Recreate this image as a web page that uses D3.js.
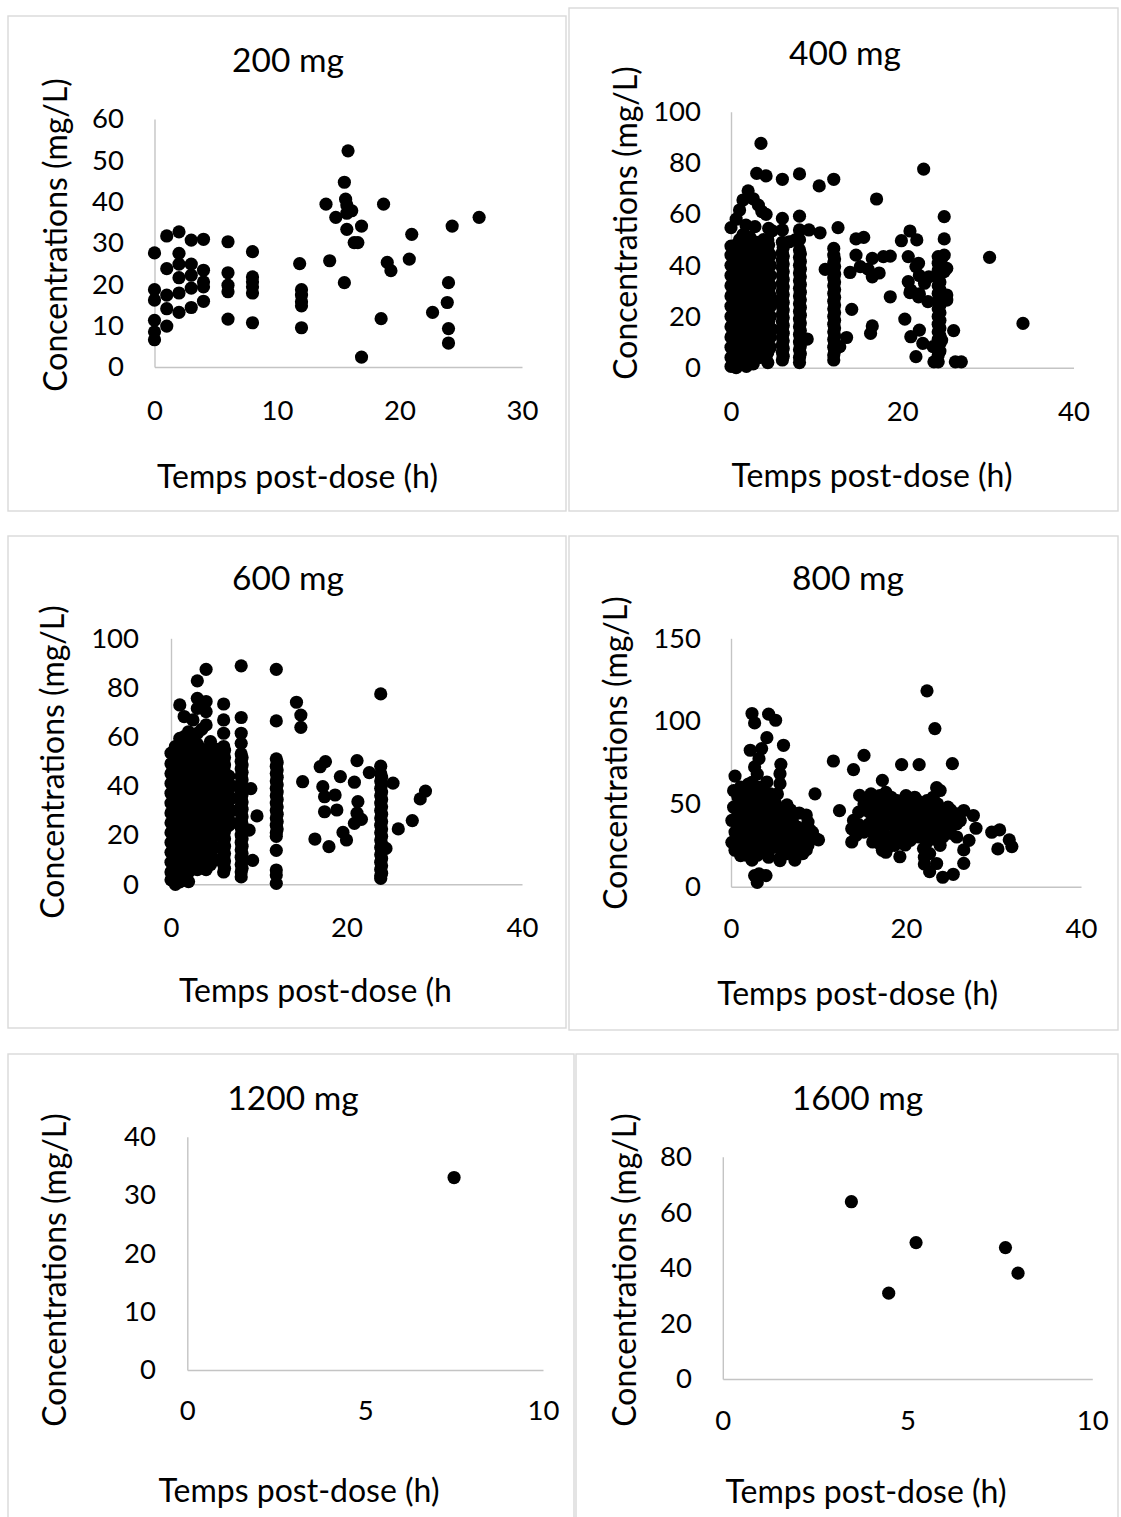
<!DOCTYPE html>
<html>
<head>
<meta charset="utf-8">
<script src="https://cdn.jsdelivr.net/npm/d3@7"></script>
<style>
  body { margin: 0; background: #fff; }
  svg { display: block; }
  text { font-family: Lato, "Open Sans", sans-serif; fill: #000; }
</style>
</head>
<body>
<svg id="chart" width="1121" height="1517"></svg>
<script>
// Concentration samples grouped by post-dose time: [time (h), [concentrations (mg/L)]]
const pts200 = [
  [0, [27.6, 18.7, 16.2, 11.3, 8.5, 6.6]],
  [1, [31.7, 23.8, 17.4, 14.1, 9.9]],
  [2, [32.7, 27.5, 24.9, 21.6, 17.9, 13.2]],
  [3, [30.7, 24.9, 22.2, 19.1, 14.4]],
  [4, [30.9, 23.4, 20.6, 19.4, 15.9]],
  [6, [30.3, 22.8, 19.8, 18.2, 11.6]],
  [8, [27.9, 21.8, 20.6, 19.4, 17.9, 10.7]],
  [11.85, [25.0]],
  [12, [18.7, 17.4, 15.8, 14.8, 9.5]],
  [14.0, [39.4]], [14.3, [25.7]], [14.8, [36.2]],
  [15.5, [20.4, 44.7]], [15.6, [40.6]], [15.7, [33.3, 37.2, 39.2]], [15.8, [52.3]],
  [16.1, [37.8]], [16.3, [30.1]], [16.6, [30.1]], [16.9, [34.1, 2.4]],
  [18.5, [11.7]], [18.7, [39.4]], [19.0, [25.3]], [19.3, [23.3]],
  [20.8, [26.1]], [21.0, [32.1]], [22.7, [13.2]],
  [23.9, [15.6]], [24.0, [20.4, 9.3, 5.8]], [24.3, [34.1]], [26.5, [36.2]]
];

const pts400 = [
  [0, [0.5, 4, 8, 12, 16, 20, 24, 28, 32, 36, 40, 44, 47.5, 54.7]],
  [0.3, [2, 6, 10, 14, 18, 22, 26, 30, 34, 38, 42, 46]],
  [0.6, [0, 3, 7, 11, 15, 19, 23, 27, 31, 35, 39, 43, 48, 58]],
  [1.0, [1, 5, 9, 13, 17, 21, 25, 29, 33, 37, 41, 45, 50, 61.6]],
  [1.4, [3, 7, 11, 15, 19, 23, 27, 31, 35, 39, 43, 47, 52, 65.5]],
  [1.75, [55.7]],
  [1.8, [0.5, 5, 9, 13, 17, 21, 25, 29, 33, 37, 41, 45, 49]],
  [2.0, [69.1]],
  [2.2, [2, 6, 10, 14, 18, 22, 26, 30, 34, 38, 42, 46, 51]],
  [2.6, [1.5, 4, 8, 12, 16, 20, 24, 28, 32, 36, 40, 44, 48, 66]],
  [2.8, [55.1]],
  [3.0, [5, 9, 13, 17, 21, 25, 29, 33, 37, 41, 45, 49, 75.9]],
  [3.2, [63.5]],
  [3.4, [4, 7, 11, 15, 19, 23, 27, 31, 35, 39, 43, 47]],
  [3.5, [87.6]],
  [3.6, [61]],
  [3.8, [6, 10, 14, 18, 22, 26, 30, 34, 38, 42, 46, 50]],
  [4.1, [4.3, 8, 12, 16, 20, 24, 28, 32, 36, 40, 44, 59.9, 74.9]],
  [4.3, [2, 6, 10, 14, 22, 26, 34, 38, 42, 46, 50]],
  [4.4, [54.4, 48, 30, 18]],
  [4.6, [8, 12, 20, 24, 28, 32, 36, 40, 44]],
  [4.8, [26.4, 15, 53.5]],
  [6.0, [73.6, 58.3, 53.8, 49, 45, 42, 39, 36, 33, 30, 27, 24, 21, 18, 15, 12, 9, 6, 3]],
  [6.1, [47, 43.5, 40.5, 37.5, 34.5, 31.5, 28.5, 25.5, 22.5, 19.5, 16.5, 13.5, 10.5, 7.5, 4.5]],
  [6.8, [49.2]], [7.5, [49.9]],
  [8.0, [75.7, 59.2, 53.8, 50, 46, 43, 40, 37, 34, 31, 28, 25, 22, 19, 16, 13, 10, 7, 4, 2]],
  [8.1, [44.5, 41.5, 38.5, 35.5, 32.5, 29.5, 26.5, 23.5, 20.5, 17.5, 14.5, 11.5, 8.5, 5.5]],
  [8.9, [11.2]], [9.1, [53.8]],
  [10.3, [71.0]], [10.4, [52.7]], [11.0, [38.4]],
  [12.0, [73.6, 46.6, 44, 41, 38, 35, 32, 29, 26, 23, 20, 17, 14, 11, 8, 5, 3]],
  [12.1, [42.5, 39.5, 36.5, 33.5, 30.5, 27.5, 24.5, 21.5, 18.5, 15.5, 12.5, 9.5, 6.5]],
  [12.5, [54.7]], [12.7, [8.2]], [13.5, [11.8]], [13.9, [37.2]], [14.1, [22.8]],
  [14.6, [50.3, 44]], [15.1, [39.5]], [15.5, [50.9]], [16.0, [38.5]],
  [16.3, [13.4]], [16.5, [42.7, 35.5, 16.3]], [17.0, [65.9]], [17.3, [37]],
  [17.8, [43.4]], [18.6, [43.6, 27.7]], [19.9, [49.6]], [20.3, [19]],
  [20.7, [33.6, 43.4]], [20.9, [53.4, 29.3]], [21.0, [12.1, 30.3]], [21.6, [39.5, 4.3]],
  [21.7, [49.9]], [21.9, [40.8, 27.7]], [22.0, [14.7, 28.8, 36]], [22.4, [9.5]],
  [22.5, [77.6]], [22.6, [33]], [23.0, [25.8]], [23.1, [35.5]], [23.6, [8.2]], [23.7, [2.3]],
  [24.2, [43.4, 40.8, 38, 35, 32, 29, 26, 23, 20, 17, 14, 11, 8, 5, 2.3]],
  [24.4, [39.5, 36.5, 33.5, 30.5, 27.5, 24.5, 21.5, 18.5, 15.5, 12.5, 9.5, 6.5]],
  [24.6, [10.8, 42.7]], [24.9, [59, 50.3, 44, 37.5]], [25.2, [38.8, 28.4, 26.4]],
  [26.0, [14.5]], [26.2, [2.3]], [26.9, [2.3]], [30.2, [43.1]], [34.1, [17.3]]
];

const pts600 = [
  [0, [1.8, 5, 9, 13, 17, 21, 25, 29, 33, 37, 41, 45, 49, 53.3]],
  [0.5, [0, 3, 7, 11, 15, 19, 23, 27, 31, 35, 39, 43, 47, 51, 56]],
  [1.0, [1, 5, 9, 13, 17, 21, 25, 29, 33, 37, 41, 45, 49, 53, 59.3, 72.9]],
  [1.5, [3, 7, 11, 15, 19, 23, 27, 31, 35, 39, 43, 47, 51, 55, 60, 68.2]],
  [2.0, [1.1, 5, 9, 13, 17, 21, 25, 29, 33, 37, 41, 45, 49, 53, 57, 62]],
  [2.5, [7, 11, 15, 19, 23, 27, 31, 35, 39, 43, 47, 51, 55, 59, 66.8]],
  [3.0, [6, 9, 13, 17, 21, 25, 29, 33, 37, 41, 45, 49, 53, 57, 61.4, 71.5, 75.6, 82.7]],
  [3.5, [7, 11, 15, 19, 23, 27, 31, 35, 39, 43, 47, 51, 55, 63]],
  [4.0, [6, 10, 14, 18, 22, 26, 30, 34, 38, 42, 46, 50, 54, 64.8, 70.2, 74.3, 87.4]],
  [4.5, [8, 13, 18, 23, 28, 33, 38, 43, 48, 53, 58]],
  [5.1, [10, 15, 20, 25, 30, 35, 40, 45, 50, 55]],
  [5.5, [22, 27, 32, 37, 42, 47, 52]],
  [6.0, [5, 8, 11, 14, 17, 20, 23, 26, 29, 32, 35, 38, 41, 44, 47, 50, 53, 56, 61.4, 66.8, 73.3]],
  [6.1, [6.5, 9.5, 12.5, 15.5, 18.5, 21.5, 24.5, 27.5, 30.5, 33.5, 36.5, 39.5, 42.5, 45.5, 48.5, 51.5, 54.5]],
  [6.6, [24, 29, 34, 39, 44]],
  [6.9, [25, 30, 35, 40]],
  [8.0, [88.8, 67.8, 61.4, 57.3, 53, 50, 47, 44, 41, 38, 35, 32, 29, 26, 23, 20, 17, 14, 11, 8, 5, 3]],
  [8.1, [51.5, 48.5, 45.5, 42.5, 39.5, 36.5, 33.5, 30.5, 27.5, 24.5, 21.5, 18.5, 15.5, 12.5, 9.5, 6.5]],
  [8.9, [22]], [9.1, [38.9]], [9.3, [9.7]], [9.8, [27.8]],
  [12.0, [87.4, 66.4, 51, 48, 45, 42, 39, 36, 33, 30, 27, 24, 21, 19.5, 13.8, 5.8, 3.8, 0.4]],
  [12.1, [49.5, 46.5, 43.5, 40.5, 37.5, 34.5, 31.5, 28.5, 25.5, 22.5]],
  [14.3, [74.0]], [14.8, [68.8, 63.8]], [15.0, [41.7]],
  [16.4, [18.4]], [17.0, [47.8]], [17.3, [39.7]], [17.5, [35.6, 29.5]], [17.6, [49.9]],
  [18.0, [15.3]], [18.7, [36.3]], [18.9, [30.2]], [19.3, [43.8]], [19.6, [21.1]], [20.0, [18.0]],
  [20.9, [41.5, 24.8]], [21.2, [50.3, 28.9]], [21.3, [33.6]], [21.7, [26.4]], [22.6, [45.4]],
  [23.9, [77.4, 48, 45, 42, 39, 36, 33, 30, 27, 24, 21, 18, 15, 12, 9, 6, 3.5, 2.4]],
  [24.0, [43.5, 40.5, 37.5, 34.5, 31.5, 28.5, 25.5, 22.5, 19.5, 16.5, 13.5, 10.5, 7.5, 4.5]],
  [24.5, [14.6]], [25.3, [41.1]], [25.9, [22.5]], [27.5, [25.9]], [28.4, [34.7]], [29.0, [37.9]]
];

const pts800 = [
  [0.1, [26.8, 40]], [0.3, [48, 58]], [0.46, [66.8, 33, 22]],
  [0.8, [54, 45, 37, 29, 24]], [1.1, [60.2, 50, 41, 33, 26, 18.8]],
  [1.3, [44, 36, 28]], [1.5, [56, 47, 38, 30, 22]], [1.8, [52, 43, 35, 27, 19]],
  [2.0, [62, 53, 45, 37, 29]],
  [2.2, [82.4, 58, 48, 40, 32, 25, 20]], [2.4, [104.6, 63, 44, 36, 29, 16.1]],
  [2.7, [98.9, 72.3, 55, 47, 39, 31, 23, 6.7]], [2.9, [41, 33]],
  [3.0, [68, 60, 51, 43, 35, 27, 19, 2.6]],
  [3.2, [77.3, 7.7]], [3.3, [57, 49, 33, 25]], [3.5, [83.4, 60.2, 53, 45, 37, 29, 21]],
  [3.8, [57, 49, 41, 33, 25]], [4.0, [6.7]],
  [4.1, [90, 63.2, 52, 44, 36, 28, 20]], [4.3, [104.2, 17.8]],
  [4.5, [56, 47, 39, 31, 23]], [4.7, [44, 36, 28, 52]],
  [5.1, [100.5, 50, 42, 34, 26]], [5.3, [56, 48, 40, 32, 24]],
  [5.6, [68.2, 62.2, 15.7, 38]], [5.7, [73.9, 45, 30, 18.1]], [5.8, [22.8]],
  [6.0, [85.4, 27, 35]], [6.2, [44, 32, 23]], [6.4, [49.4, 41, 20]],
  [6.6, [38, 28]], [6.8, [46.4, 36, 25]], [7.0, [40, 33, 20]],
  [7.3, [16.1, 30, 44]], [7.6, [36, 24]], [7.8, [44.5, 27]], [8.2, [30, 20]],
  [8.6, [43.3, 22.2, 33]], [8.8, [25.2, 39]], [9.0, [34.3]], [9.3, [33]],
  [9.6, [56.1, 29.4]], [10.0, [28.3]],
  [11.7, [75.9]], [12.4, [45.9]],
  [13.8, [27, 35]], [14.0, [70.7, 40]], [14.3, [31]], [14.6, [45, 37.5]], [14.7, [55.1]],
  [15.2, [79.3, 50, 33]], [15.6, [53]], [15.8, [45, 38]], [16.0, [48, 56]], [16.2, [33, 27]],
  [16.5, [52, 42, 36, 30]], [17.0, [55, 46, 38, 26]], [17.3, [64.2, 33, 22]],
  [17.5, [48, 36, 28]], [17.7, [20.8, 50, 42, 57]], [18.0, [40, 52, 24]],
  [18.3, [54, 46, 30]], [18.5, [50, 41]], [18.7, [36, 25, 45]],
  [19.0, [48, 52]], [19.3, [18.1, 44, 33]], [19.5, [73.7]], [19.6, [42, 30, 36]],
  [19.9, [25.2, 47, 38]], [20.0, [48, 55]], [20.3, [44, 52]], [20.5, [38, 28]],
  [20.8, [50, 42, 33]], [21.0, [47, 54, 39]],
  [21.3, [52, 45, 36]], [21.5, [73.7, 30]], [21.8, [50, 43, 33]], [22.0, [47, 40, 23]],
  [22.1, [13.7, 17.8]], [22.2, [40, 22]], [22.4, [118.3, 52, 34, 27]], [22.7, [44, 20, 9.1]],
  [22.9, [51, 48]], [23.1, [54, 38, 30]], [23.3, [95.5]],
  [23.5, [59.8, 45, 14]], [23.6, [50, 36, 28]], [23.9, [58.1, 40, 33, 25]],
  [24.2, [5.7, 46, 30]], [24.5, [42, 34]],
  [24.8, [48, 37]], [25.1, [46.3, 32.3]], [25.3, [74.3, 41]], [25.4, [7.5]],
  [25.8, [44, 38, 30]], [26.2, [40]],
  [26.6, [22.2, 46, 14.1]], [27.2, [28]], [27.7, [43]], [28.0, [35.3]],
  [29.8, [32.9]], [30.5, [22.8]], [30.7, [34.3]], [31.8, [28.3]], [32.1, [24.2]]
];

const pts1200 = [
  [7.5, [33]]
];

const pts1600 = [
  [3.48, [63.8]], [4.49, [30.9]], [5.23, [49.1]], [7.65, [47.3]], [7.99, [38.1]]
];

// Panel titles, axis titles and tick values
const doses = ["200 mg", "400 mg", "600 mg", "800 mg", "1200 mg", "1600 mg"];
const yTitle = "Concentrations (mg/L)";
const xTitles = ["Temps post-dose (h)", "Temps post-dose (h)", "Temps post-dose (h",
                 "Temps post-dose (h)", "Temps post-dose (h)", "Temps post-dose (h)"];
const xTicks = [[0, 10, 20, 30], [0, 20, 40], [0, 20, 40], [0, 20, 40], [0, 5, 10], [0, 5, 10]];
const yTicks = [[0, 10, 20, 30, 40, 50, 60], [0, 20, 40, 60, 80, 100], [0, 20, 40, 60, 80, 100],
                [0, 50, 100, 150], [0, 10, 20, 30, 40], [0, 20, 40, 60, 80]];
const series = [pts200, pts400, pts600, pts800, pts1200, pts1600];

// Layout of each panel: frame box, plot box, label anchors
const layout = [
  { frame: [8, 16, 566, 511], plot: [154.5, 119, 522, 367], title: [288, 72], xt: [297.5, 488], yt: [67, 235], xPad: 33.8, yPad: 30.5 },
  { frame: [569, 8, 1118, 511], plot: [731, 111.7, 1073.5, 367.7], title: [845, 65], xt: [872, 487], yt: [637, 223], xPad: 34.1, yPad: 30 },
  { frame: [8, 536, 566, 1028], plot: [171, 638.3, 522, 884.3], title: [288, 590], xt: [315.5, 1002], yt: [64, 762], xPad: 33.5, yPad: 32 },
  { frame: [569, 536, 1118, 1030], plot: [731, 638.3, 1081, 886.7], title: [848, 590], xt: [857.6, 1005], yt: [627, 753], xPad: 32.1, yPad: 30 },
  { frame: [8, 1054, 574, 1560], plot: [187.3, 1136.7, 543, 1370], title: [293, 1110], xt: [299, 1502], yt: [66, 1270], xPad: 30.8, yPad: 31.3 },
  { frame: [576, 1054, 1118, 1560], plot: [722.8, 1156.7, 1092.3, 1379], title: [857.5, 1110], xt: [866, 1503], yt: [636, 1270], xPad: 31.8, yPad: 30.8 }
];

const TICK_FS = 27.5, AXIS_FS = 32, TITLE_FS = 33.5, R = 6.6;
const FRAME = "#d9d9d9", AXIS = "#c4c4c4";

const svg = d3.select("#chart");

layout.forEach((L, i) => {
  const g = svg.append("g");
  const [fx0, fy0, fx1, fy1] = L.frame;
  g.append("rect")
    .attr("x", fx0).attr("y", fy0)
    .attr("width", fx1 - fx0).attr("height", fy1 - fy0)
    .attr("fill", "none").attr("stroke", FRAME).attr("stroke-width", 1.4);

  const [px0, py0, px1, py1] = L.plot;
  const xt = xTicks[i], yt = yTicks[i];
  const x = d3.scaleLinear().domain([0, xt[xt.length - 1]]).range([px0, px1]);
  const y = d3.scaleLinear().domain([0, yt[yt.length - 1]]).range([py1, py0]);

  // axes: light gray lines, no tick marks
  const ax = g.append("g").attr("transform", `translate(0,${py1})`)
    .call(d3.axisBottom(x).tickValues(xt).tickSize(0).tickSizeOuter(0).tickPadding(L.xPad).tickFormat(d3.format("d")));
  const ay = g.append("g").attr("transform", `translate(${px0},0)`)
    .call(d3.axisLeft(y).tickValues(yt).tickSize(0).tickSizeOuter(0).tickPadding(L.yPad).tickFormat(d3.format("d")));
  [ax, ay].forEach(a => {
    a.attr("font-family", null).attr("font-size", null);
    a.select(".domain").attr("stroke", AXIS).attr("stroke-width", 1.4);
    a.selectAll("text").attr("font-size", TICK_FS).attr("fill", "#000");
  });

  // markers
  const flat = series[i].flatMap(([t, cs]) => cs.map(c => ({ t, c })));
  g.append("g").selectAll("circle").data(flat).join("circle")
    .attr("cx", d => x(d.t)).attr("cy", d => y(d.c)).attr("r", R).attr("fill", "#000");

  // titles
  g.append("text").attr("x", L.title[0]).attr("y", L.title[1])
    .attr("text-anchor", "middle").attr("font-size", TITLE_FS).text(doses[i]);
  g.append("text").attr("x", L.xt[0]).attr("y", L.xt[1])
    .attr("text-anchor", "middle").attr("font-size", AXIS_FS).text(xTitles[i]);
  g.append("text").attr("transform", `translate(${L.yt[0]},${L.yt[1]}) rotate(-90)`)
    .attr("text-anchor", "middle").attr("font-size", AXIS_FS).text(yTitle);
});
</script>
</body>
</html>
